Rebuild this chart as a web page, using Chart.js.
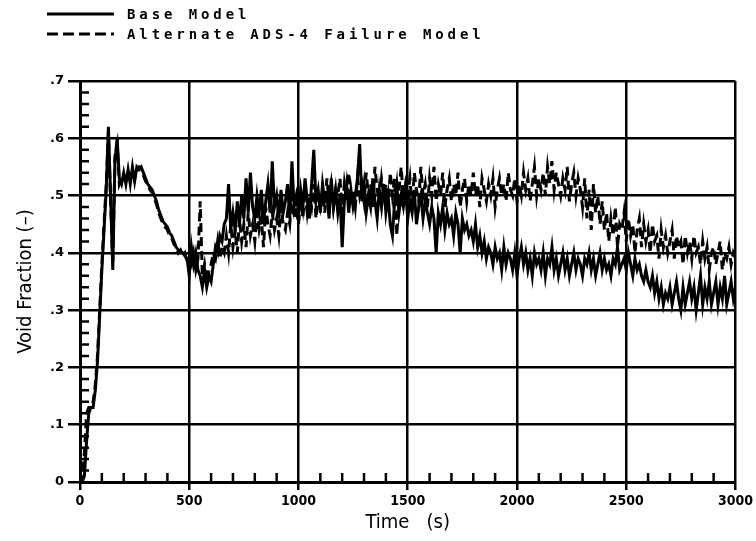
<!DOCTYPE html>
<html>
<head>
<meta charset="utf-8">
<script src="https://cdn.jsdelivr.net/npm/chart.js@4/dist/chart.umd.min.js"></script>
<style>
  html, body { margin: 0; padding: 0; background: #fff; }
  #wrap { width: 756px; height: 541px; position: relative; }
</style>
</head>
<body>
<div id="wrap"><canvas id="voidChart"></canvas></div>
<script>
// Sample times (s)
const times = [
  0, 10, 20, 30, 40, 50, 60, 70, 80, 90,
  100, 110, 120, 130, 140, 150, 160, 170, 180, 190,
  200, 210, 220, 230, 240, 250, 260, 270, 280, 290,
  300, 310, 320, 330, 340, 350, 360, 370, 380, 390,
  400, 410, 420, 430, 440, 450, 460, 470, 480, 490,
  500, 510, 520, 530, 540, 550, 560, 570, 580, 590,
  600, 610, 620, 630, 640, 650, 660, 670, 680, 690,
  700, 710, 720, 730, 740, 750, 760, 770, 780, 790,
  800, 810, 820, 830, 840, 850, 860, 870, 880, 890,
  900, 910, 920, 930, 940, 950, 960, 970, 980, 990,
  1000, 1010, 1020, 1030, 1040, 1050, 1060, 1070, 1080, 1090,
  1100, 1110, 1120, 1130, 1140, 1150, 1160, 1170, 1180, 1190,
  1200, 1210, 1220, 1230, 1240, 1250, 1260, 1270, 1280, 1290,
  1300, 1310, 1320, 1330, 1340, 1350, 1360, 1370, 1380, 1390,
  1400, 1410, 1420, 1430, 1440, 1450, 1460, 1470, 1480, 1490,
  1500, 1510, 1520, 1530, 1540, 1550, 1560, 1570, 1580, 1590,
  1600, 1610, 1620, 1630, 1640, 1650, 1660, 1670, 1680, 1690,
  1700, 1710, 1720, 1730, 1740, 1750, 1760, 1770, 1780, 1790,
  1800, 1810, 1820, 1830, 1840, 1850, 1860, 1870, 1880, 1890,
  1900, 1910, 1920, 1930, 1940, 1950, 1960, 1970, 1980, 1990,
  2000, 2010, 2020, 2030, 2040, 2050, 2060, 2070, 2080, 2090,
  2100, 2110, 2120, 2130, 2140, 2150, 2160, 2170, 2180, 2190,
  2200, 2210, 2220, 2230, 2240, 2250, 2260, 2270, 2280, 2290,
  2300, 2310, 2320, 2330, 2340, 2350, 2360, 2370, 2380, 2390,
  2400, 2410, 2420, 2430, 2440, 2450, 2460, 2470, 2480, 2490,
  2500, 2510, 2520, 2530, 2540, 2550, 2560, 2570, 2580, 2590,
  2600, 2610, 2620, 2630, 2640, 2650, 2660, 2670, 2680, 2690,
  2700, 2710, 2720, 2730, 2740, 2750, 2760, 2770, 2780, 2790,
  2800, 2810, 2820, 2830, 2840, 2850, 2860, 2870, 2880, 2890,
  2900, 2910, 2920, 2930, 2940, 2950, 2960, 2970, 2980, 2990,
  3000
];

// Void fraction, base model
const baseVoid = [
  0, 0, 0.01, 0.07, 0.12, 0.13, 0.13, 0.16, 0.21, 0.29,
  .37, .44, .51, .62, .50, .37, .56, .60, .53, .52,
  .54, .52, .545, .52, .55, .525, .55, .545, .55, .54,
  .53, .52, .515, .51, .50, .49, .475, .465, .455, .45,
  .445, .435, .43, .42, .41, .405, .40, .40, .395, .39,
  .36, .41, .38, .40, .37, .36, .34, .37, .34, .36,
  .35, .38, .41, .40, .43, .42, .45, .46, .52, .44,
  .47, .44, .49, .45, .50, .46, .53, .47, .54, .48,
  .46, .50, .47, .51, .45, .49, .52, .47, .56, .48,
  .50, .46, .51, .47, .49, .52, .46, .56, .48, .50,
  .47, .51, .48, .53, .49, .46, .52, .58, .49, .51,
  .47, .52, .49, .50, .46, .53, .48, .51, .47, .50,
  .41, .49, .52, .47, .51, .48, .50, .53, .59, .49,
  .52, .47, .50, .48, .53, .49, .46, .51, .48, .52,
  .47, .50, .45, .43, .49, .52, .47, .50, .48, .51,
  .46, .49, .47, .51, .45, .48, .50, .46, .49, .47,
  .45, .48, .46, .40, .47, .45, .48, .44, .47, .45,
  .46, .43, .47, .45, .40, .46, .44, .45, .43, .44,
  .42, .45, .41, .43, .40, .42, .39, .41, .40, .38,
  .41, .39, .40, .37, .41, .38, .40, .39, .37, .40,
  .36, .39, .41, .38, .40, .37, .39, .36, .40, .38,
  .39, .37, .40, .36, .39, .38, .41, .37, .39, .36,
  .38, .40, .37, .39, .36, .38, .40, .37, .39, .38,
  .36, .39, .38, .40, .37, .39, .36, .38, .40, .37,
  .39, .37, .38, .36, .39, .38, .41, .37, .38, .39,
  .37, .40, .38, .36, .39, .37, .38, .36, .35, .37,
  .35, .34, .36, .33, .35, .32, .34, .31, .33, .32,
  .34, .31, .33, .35, .32, .30, .34, .31, .33, .35,
  .32, .34, .30, .33, .36, .31, .34, .32, .35, .31,
  .33, .35, .31, .34, .32, .36, .31, .33, .35, .32,
  .34
];

// Void fraction, alternate ADS-4 failure model
const altVoid = [
  0, 0, 0.05, 0.12, 0.13, 0.13, 0.14, 0.17, 0.22, 0.30,
  .38, .45, .52, .61, .49, .38, .57, .59, .52, .53,
  .53, .525, .54, .53, .545, .53, .545, .55, .545, .535,
  .525, .52, .51, .505, .495, .485, .47, .46, .45, .445,
  .44, .43, .425, .415, .41, .40, .405, .395, .40, .385,
  .39, .38, .40, .37, .39, .49, .36, .38, .35, .37,
  .38, .40, .39, .42, .39, .41, .40, .43, .40, .45,
  .41, .44, .40, .46, .42, .45, .41, .47, .43, .45,
  .42, .47, .44, .46, .41, .48, .45, .43, .47, .44,
  .46, .43, .48, .45, .44, .47, .45, .50, .46, .48,
  .45, .49, .46, .51, .47, .50, .48, .52, .46, .50,
  .48, .51, .47, .53, .49, .52, .48, .51, .50, .53,
  .47, .52, .49, .54, .50, .51, .48, .53, .50, .52,
  .49, .54, .50, .52, .48, .55, .51, .49, .53, .50,
  .52, .48, .54, .50, .53, .43, .51, .55, .49, .52,
  .50, .53, .48, .54, .51, .49, .55, .50, .52, .48,
  .53, .50, .55, .49, .52, .50, .54, .48, .51, .53,
  .49, .52, .50, .54, .48, .51, .53, .49, .52, .50,
  .54, .50, .52, .48, .53, .51, .49, .52, .50, .53,
  .48, .51, .53, .50, .52, .49, .54, .51, .50, .53,
  .49, .52, .50, .54, .51, .53, .49, .52, .55, .50,
  .53, .51, .54, .50, .55, .52, .56, .51, .54, .52,
  .50, .53, .51, .55, .49, .52, .54, .50, .53, .51,
  .48, .53, .46, .51, .44, .52, .47, .50, .45, .49,
  .44, .47, .42, .46, .43, .48, .41, .45, .44, .47,
  .42, .46, .43, .45, .40, .44, .46, .41, .45, .42,
  .44, .40, .45, .42, .43, .39, .44, .41, .43, .40,
  .42, .44, .39, .43, .41, .42, .38, .43, .40, .42,
  .39, .43, .40, .41, .38, .42, .39, .41, .37, .40,
  .41, .38, .40, .42, .37, .40, .39, .41, .38, .40,
  .39
];

const seriesNames = ["Base Model", "Alternate ADS-4 Failure Model"];

const xTicks = { min: 0, max: 3000, major: 500, minor: 100 };
const yTicks = { min: 0, max: 0.7, major: 0.1, minor: 0.02 };

function toPoints(values) {
  return times.map((t, i) => ({ x: t, y: values[i] }));
}

// small inward ticks between the major gridlines
const minorTicks = {
  id: "minorTicks",
  afterDraw(chart) {
    const { ctx, chartArea, scales } = chart;
    ctx.save();
    ctx.strokeStyle = "#000";
    ctx.lineWidth = 2.5;
    ctx.beginPath();
    for (let v = xTicks.min + xTicks.minor; v < xTicks.max; v += xTicks.minor) {
      if (v % xTicks.major === 0) continue;
      const px = scales.x.getPixelForValue(v);
      ctx.moveTo(px, chartArea.bottom);
      ctx.lineTo(px, chartArea.bottom - 9);
    }
    for (let k = 1; k < 35; k++) {
      if (k % 5 === 0) continue;
      const py = scales.y.getPixelForValue(k * yTicks.minor);
      ctx.moveTo(chartArea.left, py);
      ctx.lineTo(chartArea.left + 9, py);
    }
    ctx.stroke();
    ctx.restore();
  }
};

// stacked legend in the top-left corner
const stackedLegend = {
  id: "stackedLegend",
  afterDraw(chart) {
    const { ctx } = chart;
    ctx.save();
    chart.data.datasets.forEach((ds, i) => {
      const y = 14 + i * 20;
      ctx.strokeStyle = ds.borderColor;
      ctx.lineWidth = 3;
      ctx.setLineDash(ds.borderDash ? [11, 5] : []);
      ctx.beginPath();
      ctx.moveTo(47, y);
      ctx.lineTo(114, y);
      ctx.stroke();
      ctx.setLineDash([]);
      ctx.fillStyle = "#000";
      ctx.font = "bold 14px 'DejaVu Sans Mono'";
      ctx.letterSpacing = "3.9px";
      ctx.textBaseline = "middle";
      ctx.fillText(ds.label, 127, y + 1);
    });
    ctx.restore();
  }
};

new Chart(document.getElementById("voidChart"), {
  type: "line",
  data: {
    datasets: [
      {
        label: seriesNames[0],
        data: toPoints(baseVoid),
        borderColor: "#000",
        borderWidth: 3,
        pointRadius: 0,
        tension: 0
      },
      {
        label: seriesNames[1],
        data: toPoints(altVoid),
        borderColor: "#000",
        borderWidth: 3,
        borderDash: [9, 5],
        pointRadius: 0,
        tension: 0
      }
    ]
  },
  options: {
    responsive: true,
    maintainAspectRatio: false,
    animation: false,
    layout: { padding: { top: 81, right: 16, left: 0, bottom: 0 } },
    plugins: {
      legend: { display: false },
      tooltip: { enabled: false }
    },
    scales: {
      x: {
        type: "linear",
        min: xTicks.min,
        max: xTicks.max,
        afterFit(scale) { scale.height = 59; },
        border: { color: "#000", width: 3 },
        grid: { color: "#000", lineWidth: 2.5, tickLength: 8, tickColor: "#000", tickWidth: 2.5 },
        ticks: {
          stepSize: xTicks.major,
          padding: 3,
          color: "#000",
          maxRotation: 0,
          font: { family: "'DejaVu Sans Condensed'", weight: "bold", size: 14 },
          callback: v => String(v)
        },
        title: {
          display: true,
          text: "Time   (s)",
          color: "#000",
          padding: { top: 0, bottom: 6 },
          font: { family: "'DejaVu Sans Condensed'", size: 20 }
        }
      },
      y: {
        min: yTicks.min,
        max: yTicks.max,
        afterFit(scale) { scale.width = 80; },
        border: { color: "#000", width: 3 },
        grid: { color: "#000", lineWidth: 2.5, tickLength: 12, tickColor: "#000", tickWidth: 2.5 },
        ticks: {
          stepSize: yTicks.major,
          padding: 4,
          color: "#000",
          font: { family: "'DejaVu Sans'", weight: "bold", size: 13 },
          callback: v => (v === 0 ? "0" : v.toFixed(1).replace(/^0/, ""))
        },
        title: {
          display: true,
          text: "Void Fraction (\u2013)",
          color: "#000",
          padding: { top: 14, bottom: 0 },
          font: { family: "'DejaVu Sans Condensed'", size: 20 }
        }
      }
    }
  },
  plugins: [minorTicks, stackedLegend]
});
</script>
</body>
</html>
